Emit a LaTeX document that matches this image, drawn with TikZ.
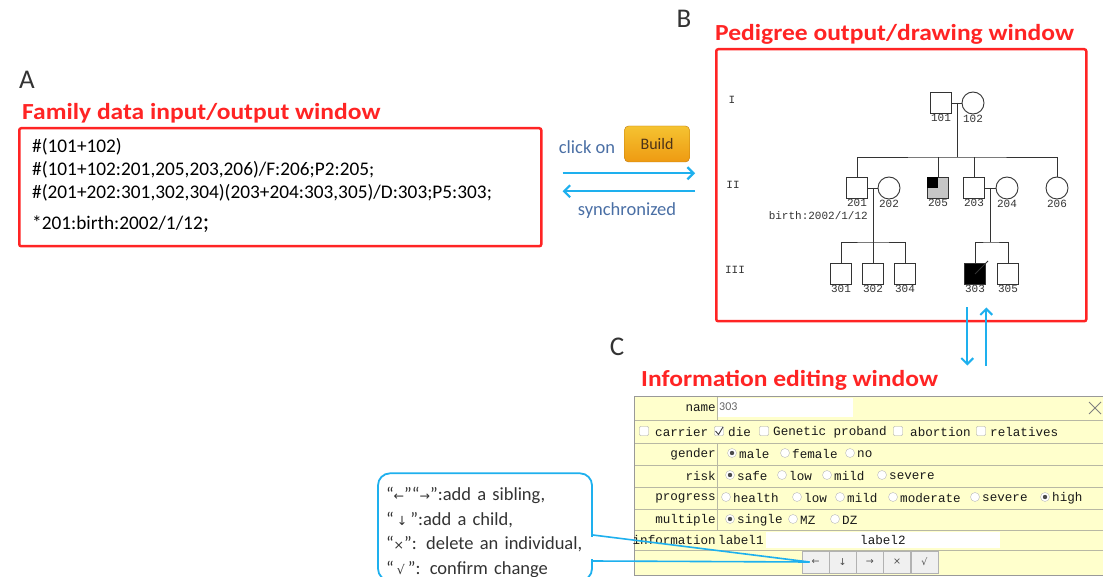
\documentclass[tikz,border=0pt]{standalone}
\usepackage{fontspec}
\setmainfont{Carlito}
\newfontfamily\titlefont[FakeStretch=1.11]{Carlito}
\newfontfamily\uifont{Liberation Mono}
\newfontfamily\pedfont{Liberation Mono}
\newfontfamily\symfont{DejaVu Sans}
\usetikzlibrary{positioning,arrows.meta,calc}

\definecolor{boxred}{HTML}{FF2424}
\definecolor{arrowblue}{HTML}{1EB0EE}
\definecolor{clickblue}{HTML}{4A6FA5}
\definecolor{formyellow}{HTML}{FFFFCC}
\definecolor{formline}{HTML}{B8B8A4}
\definecolor{btnorange}{HTML}{EE9A12}

\newcommand\sym[1]{{\symfont\fontsize{12.5}{12.5}\selectfont #1}}

\tikzset{
  redbox/.style={draw=boxred, line width=2.5pt, rounded corners=2pt},
  redtitle/.style={text=boxred, font=\titlefont\fontsize{23}{23}\selectfont\bfseries, inner sep=0pt, anchor=west},
  panel/.style={font=\fontsize{27}{27}\selectfont, text=black!80, inner sep=0pt},
  datatext/.style={font=\fontsize{19.3}{19.3}\selectfont, anchor=west, inner sep=0pt},
  synctext/.style={font=\fontsize{18.5}{18.5}\selectfont, text=clickblue},
  syncarrow/.style={draw=arrowblue, line width=2.2pt, -{Straight Barb[length=6pt,width=12pt]}},
  ped/.style={line width=0.9pt, draw=black!80},
  idlabel/.style={font=\pedfont\fontsize{11}{11}\selectfont, inner sep=0pt, text=black!80},
  male/.style={ped, minimum size=21pt, inner sep=0pt, label distance=2pt},
  female/.style={ped, circle, minimum size=22pt, inner sep=0pt, label distance=2pt},
  uitext/.style={font=\uifont\fontsize{12.6}{12.6}\selectfont, inner sep=0pt, anchor=west, text=black!90},
  chk/.style={draw=gray!70, fill=white, minimum size=9pt, inner sep=0pt, rounded corners=1pt},
  radio/.style={circle, draw=gray!55, fill=white, minimum size=9pt, inner sep=0pt},
  radioon/.style={radio, path picture={\fill[black!70] (path picture bounding box.center) circle (2.2pt);}},
  uibtn/.style={draw=gray!60, fill=gray!12, minimum width=27pt, minimum height=22pt, inner sep=0pt, font=\symfont\fontsize{9.5}{9.5}\selectfont, text=black!70},
  callout/.style={draw=arrowblue, line width=1.8pt, fill=white, rounded corners=12pt, text width=198pt, inner xsep=8pt, minimum height=96pt, align=left, font=\fontsize{18.5}{24.5}\selectfont, text=black!80},
  tipline/.style={draw=arrowblue, line width=1.6pt}
}

\begin{document}
\begin{tikzpicture}[x=1pt,y=-1pt]
\useasboundingbox[fill=white] (0,0) rectangle (1103,577);

% panel letters
\node (lA) [panel] at (27,80) {A};
\node (lB) [panel] at (684,19) {B};
\node (lC) [panel] at (617,347) {C};

% A: family data window
\node (tA) [redtitle] at (22,113) {Family data input/output window};
\node (databox) [redbox, anchor=north west, minimum width=522, minimum height=118] at (18,127) {};
\node (d1) [datatext] at (32,147) {\#(101+102)};
\node (d2) [datatext] at (32,170) {\#(101+102:201,205,203,206)/F:206;P2:205;};
\node (d3) [datatext] at (32,193) {\#(201+202:301,302,304)(203+204:303,305)/D:303;P5:303;};
\node (d4) [datatext] at (32,224) {*201:birth:2002/1/12\fontsize{24}{24}\selectfont;};

% build and sync
\node (click) [synctext] at (587,147) {click on};
\node (build) [rounded corners=4pt, draw=btnorange!80!black, top color=btnorange!70!yellow!85!white, bottom color=btnorange,
  minimum width=65pt, minimum height=36pt, font=\fontsize{16}{16}\selectfont, text=black!60!brown] at (657,144) {Build};
\node (sync) [synctext] at (627,211) {synchronized};

% B: pedigree window
\node (tB) [redtitle] at (715,34) {Pedigree output/drawing window};
\node (pedbox) [redbox, anchor=north west, minimum width=370, minimum height=272] at (715,48) {};

\draw[syncarrow] ([shift={(20,-14)}]databox.east) -- ([shift={(-20,-12)}]pedbox.west);
\draw[syncarrow] ([shift={(-20,6)}]pedbox.west) -- ([shift={(20,4)}]databox.east);

% generations
\node (g1) [idlabel] at (732,100) {I};
\node (g2) [idlabel] at (733,185) {II};
\node (g3) [idlabel] at (735,270) {III};

\node (i101) [male, label={[idlabel]below:101}] at (941,103) {};
\node (i102) [female, label={[idlabel]below:102}] at (973,103) {};

\node (i201) [male, label={[idlabel]below:201}] at (857,188) {};
\node (i202) [female, label={[idlabel]below:202}] at (889,188) {};
\node (i205) [male, fill=gray!45, label={[idlabel]below:205}] at (938,188) {};
\fill[black] (i205.north west) rectangle (i205.center);
\node (i203) [male, label={[idlabel]below:203}] at (974,188) {};
\node (i204) [female, label={[idlabel]below:204}] at (1007,188) {};
\node (i206) [female, label={[idlabel]below:206}] at (1057,188) {};
\node (b201) [idlabel, anchor=east] at (868,216) {birth:2002/1/12};

\node (i301) [male, label={[idlabel]below:301}] at (841,274) {};
\node (i302) [male, label={[idlabel]below:302}] at (873,274) {};
\node (i304) [male, label={[idlabel]below:304}] at (905,274) {};
\node (i303) [male, fill=black, label={[idlabel]below:303}] at (975,274) {};
\node (i305) [male, label={[idlabel]below:305}] at (1008,274) {};
\draw[ped] (i303.center) -- ++(13,-13);

% marriages and sibships
\coordinate (m1) at ($(i101)!0.5!(i102)$);
\coordinate (m2) at ($(i201)!0.5!(i202)$);
\coordinate (m3) at ($(i203)!0.5!(i204)$);
\coordinate (s1) at (m1 |- 0,157);
\coordinate (s2) at (m2 |- 0,242);
\coordinate (s3) at (m3 |- 0,242);
\draw[ped] (i101) -- (i102);
\draw[ped] (i201) -- (i202);
\draw[ped] (i203) -- (i204);
\draw[ped] (m1) -- (s1);
\draw[ped] (i201) |- (s1) -| (i206);
\draw[ped] (i205) -- (i205 |- s1);
\draw[ped] (i203) -- (i203 |- s1);
\draw[ped] (m2) -- (s2);
\draw[ped] (i301) |- (s2) -| (i304);
\draw[ped] (i302) -- (s2);
\draw[ped] (m3) -- (s3);
\draw[ped] (i303) |- (s3) -| (i305);

% B <-> C
\draw[syncarrow, line width=2pt] ([shift={(66,-15)}]pedbox.south) -- ([shift={(66,43)}]pedbox.south);
\draw[syncarrow, line width=2pt] ([shift={(85,43)}]pedbox.south) -- ([shift={(85,-15)}]pedbox.south);

% C: information editing window
\node (tC) [redtitle] at (641,380) {Information editing window};
\fill[formyellow] (634,396) rectangle (1110,575);
\foreach \y in {420,443,465,487,509,530,550}
  \draw[formline] (634,\y) -- (1110,\y);
\draw[formline] (717,396) -- (717,420) (717,443) -- (717,530);
\draw[gray!80, line width=0.8pt] (634,396) rectangle (1110,575);

\foreach \y/\t in {408/name,454/gender,476/risk,498/progress,520/multiple,540/information}
  \node[uitext, anchor=east] at (716,\y) {\t};

% name row
\fill[white] (718,398) rectangle (853,417);
\node (nm) [font=\fontsize{12}{12}\selectfont, text=black!60, inner sep=0pt, anchor=west] at (719,407) {303};
\draw[gray, line width=1pt] (1089,402) -- (1101,414) (1089,414) -- (1101,402);

% checkbox row
\foreach \bx/\tx/\t in {644/655/carrier,719/728/die,764/773/Genetic proband,898/910/abortion,981/990/relatives}{
  \node[chk] at (\bx,431) {};
  \node[uitext] at (\tx,432) {\t};
}
\draw[black!75, line width=0.9pt] (715.5,431) -- (718.5,434.5) -- (723,427);

% radio rows
\foreach \rx/\t/\st in {732/male/radioon,785/female/radio,850/no/radio}{
  \node[\st] at (\rx,453) {};
  \node[uitext] at (\rx+7,454) {\t};
}
\foreach \rx/\t/\st in {730/safe/radioon,782/low/radio,827/mild/radio,882/severe/radio}{
  \node[\st] at (\rx,475) {};
  \node[uitext] at (\rx+7,476) {\t};
}
\foreach \rx/\t/\st in {726/health/radio,797/low/radio,840/mild/radio,893/moderate/radio,975/severe/radio,1045/high/radioon}{
  \node[\st] at (\rx,497) {};
  \node[uitext] at (\rx+7,498) {\t};
}
\foreach \rx/\t/\st in {730/single/radioon,793/MZ/radio,835/DZ/radio}{
  \node[\st] at (\rx,519) {};
  \node[uitext] at (\rx+7,520) {\t};
}

% information row
\node[uitext] at (718,540) {label1};
\fill[white] (766,532) rectangle (1000,548);
\node[uitext] at (860,540) {label2};

% buttons
\foreach \i/\s in {0/←,1/↓,2/→,3/×,4/√}
  \node (btn\i) [uibtn] at (815.5+27.2*\i,562) {\s};

% callout
\node (tip) [callout] at (485,527) {\rule{0pt}{24pt}“\sym{←}”“\sym{→}”:add a sibling,\\“\,\sym{↓}\,”:add a child,\\“\sym{×}”: delete an individual,\\“\,\sym{√}\,”: confirm change};
\draw[white, line width=3pt] ([yshift=-10pt]tip.east) -- ([yshift=-32pt]tip.east);
\draw[tipline] ([yshift=-8pt]tip.east) -- ([xshift=-6pt]btn0.center);
\draw[tipline] ([yshift=-34pt]tip.east) -- ([xshift=-6pt]btn0.center);
\end{tikzpicture}
\end{document}
